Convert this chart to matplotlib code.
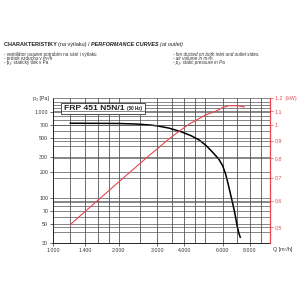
import numpy as np
import matplotlib.pyplot as plt
from matplotlib.ticker import FixedLocator, FixedFormatter, NullLocator

plt.rcParams['font.family'] = ['Liberation Sans', 'DejaVu Sans']

# air volume Q [m3/h] vs static pressure [Pa]
q_press = [1200, 1600, 2000, 2400, 2800, 3000, 3400, 3900, 4300, 4700, 5050, 5400, 5750,
           6000, 6200, 6350, 6500, 6650, 6800, 7000, 7120, 7230]
p_stat = [740, 738, 735, 725, 705, 690, 650, 585, 530, 470, 405, 340, 285,
          238, 188, 148, 115, 90, 70, 47, 39, 35]

# air volume Q [m3/h] vs power input [kW]
q_power = [1200, 1600, 2000, 2500, 2800, 3000, 3400, 3800, 4200, 4500, 5000, 5600, 6000,
           6400, 7000, 7550]
power = [0.51, 0.60, 0.68, 0.77, 0.82, 0.85, 0.91, 0.96, 1.005, 1.03, 1.07, 1.10, 1.125,
         1.14, 1.14, 1.13]

x_ticks = [1000, 1400, 2000, 3000, 4000, 6000, 8000]
x_labels = ["1.000", "1.400", "2.000", "3.000", "4.000", "6.000", "8.000"]
x_grid = [1200, 1400, 1600, 1800, 2000, 2500, 3000, 3500, 4000, 4500, 5000, 6000, 7000, 8000, 9000]
y_ticks = [30, 50, 70, 100, 200, 300, 500, 700, 1000]
y_labels = ["30", "50", "70", "100", "200", "300", "500", "700", "1.000"]
r_ticks = [0.5, 0.6, 0.7, 0.8, 0.9, 1.0, 1.1, 1.2]
r_labels = ["0,5", "0,6", "0,7", "0,8", "0,9", "1", "1,1", "1,2  (kW)"]

fig = plt.figure(figsize=(3, 3), dpi=100)
ax = fig.add_axes([0.177, 0.19, 0.723, 0.483])
ax.set_xscale("log")
ax.set_yscale("log")
ax.set_xlim(1000, 9900)
ax.set_ylim(30, 1450)

grid_c = "#555555"
for g in x_grid:
    ax.axvline(g, color=grid_c, lw=0.6, zorder=0)
y_grid = list(range(40, 100, 10)) + list(range(100, 1000, 100)) + [1000, 1100, 1200, 1300]
for g in y_grid:
    ax.axhline(g, color=grid_c, lw=0.5, zorder=0)

ax.plot(q_press, p_stat, color="black", lw=1.1, zorder=3)

ax.xaxis.set_major_locator(FixedLocator(x_ticks))
ax.xaxis.set_major_formatter(FixedFormatter(x_labels))
ax.xaxis.set_minor_locator(NullLocator())
ax.yaxis.set_major_locator(FixedLocator(y_ticks))
ax.yaxis.set_major_formatter(FixedFormatter(y_labels))
ax.yaxis.set_minor_locator(NullLocator())
ax.tick_params(labelsize=3.8, length=2, width=0.5, pad=1.5, colors="#333333")
for s in ["top", "right"]:
    ax.spines[s].set_visible(False)
ax.spines["left"].set_linewidth(0.6)
ax.spines["bottom"].set_linewidth(0.6)

ax2 = ax.twinx()
ax2.set_yscale("log")
ax2.set_ylim(0.45, 1.2)
for g in r_ticks:
    ax2.axhline(g, color=grid_c, lw=0.5, zorder=0)
ax2.plot(q_power, power, color="#e8454f", lw=0.8, zorder=3)
ax2.yaxis.set_major_locator(FixedLocator(r_ticks))
ax2.yaxis.set_major_formatter(FixedFormatter(r_labels))
ax2.yaxis.set_minor_locator(NullLocator())
ax2.tick_params(axis="y", labelsize=3.8, length=2, width=0.5, pad=1.5, colors="#e8454f")
for s in ["top", "left", "bottom"]:
    ax2.spines[s].set_visible(False)
ax2.spines["right"].set_color("#e8454f")
ax2.spines["right"].set_linewidth(0.9)

ax.text(-0.02, 1.0, "p\u2082 [Pa]", transform=ax.transAxes, ha="right", va="center",
        fontsize=3.8, color="#333333")
ax.text(1.0, -0.045, "  Q [m\u00b3/h]", transform=ax.transAxes, ha="left", va="center",
        fontsize=3.8, color="#333333")

renderer = fig.canvas.get_renderer()


def chain(pieces, x0, y0, artist_owner):
    # place text pieces one after another on the same baseline
    x = x0
    out = []
    for txt, kw in pieces:
        t = artist_owner.text(x, y0, txt, transform=fig.transFigure, **kw)
        bb = t.get_window_extent(renderer)
        x = bb.x1 / fig.bbox.width
        out.append(t)
    return out


box_txt = ax.text(0.05, 0.93, "FRP 451 N5N/1 ", transform=ax.transAxes, fontsize=6.1,
                  fontweight="bold", color="#222222", va="center", zorder=5)
bb = box_txt.get_window_extent(renderer)
hz = ax.text(bb.x1 / fig.bbox.width, (bb.y0 + bb.y1) / 2 / fig.bbox.height, "(50 Hz)",
             transform=fig.transFigure, fontsize=3.3, fontweight="bold", color="#222222",
             va="center", zorder=6)
bb2 = hz.get_window_extent(renderer)
pad = 3
rect = plt.Rectangle(((bb.x0 - pad) / fig.bbox.width, (bb.y0 - pad + 1) / fig.bbox.height),
                     (bb2.x1 - bb.x0 + 2 * pad) / fig.bbox.width,
                     (bb.y1 - bb.y0 + 2 * pad - 2) / fig.bbox.height,
                     transform=fig.transFigure, fc="white", ec="#333333", lw=0.6, zorder=4)
ax.add_artist(rect)
rect.set_clip_on(False)

# header
hc = "#222222"
chain([("CHARAKTERISTIKY ", dict(fontsize=4.0, fontweight="bold", color=hc)),
       ("(na výtlaku) / ", dict(fontsize=4.0, color=hc)),
       ("PERFORMANCE CURVES ", dict(fontsize=4.0, fontweight="bold", style="italic", color=hc)),
       ("(at outlet)", dict(fontsize=4.0, style="italic", color=hc))],
      0.013, 0.848, fig)

left_lines = ["- ventilátor osazen potrubím na sání i výtlaku",
              "- průtok vzduchu v m\u00b3/h",
              "- p\u2082: statický tlak v Pa"]
right_lines = ["- fan ducted on both inlet and outlet sides.",
               "- air volume in m\u00b3/h.",
               "- p\u2082: static pressure in Pa"]
for i, t in enumerate(left_lines):
    fig.text(0.013, 0.815 - i * 0.014, t, fontsize=3.3, color="#333333")
for i, t in enumerate(right_lines):
    fig.text(0.577, 0.815 - i * 0.014, t, fontsize=3.3, style="italic", color="#333333")

fig.savefig("out.png", dpi=100)
